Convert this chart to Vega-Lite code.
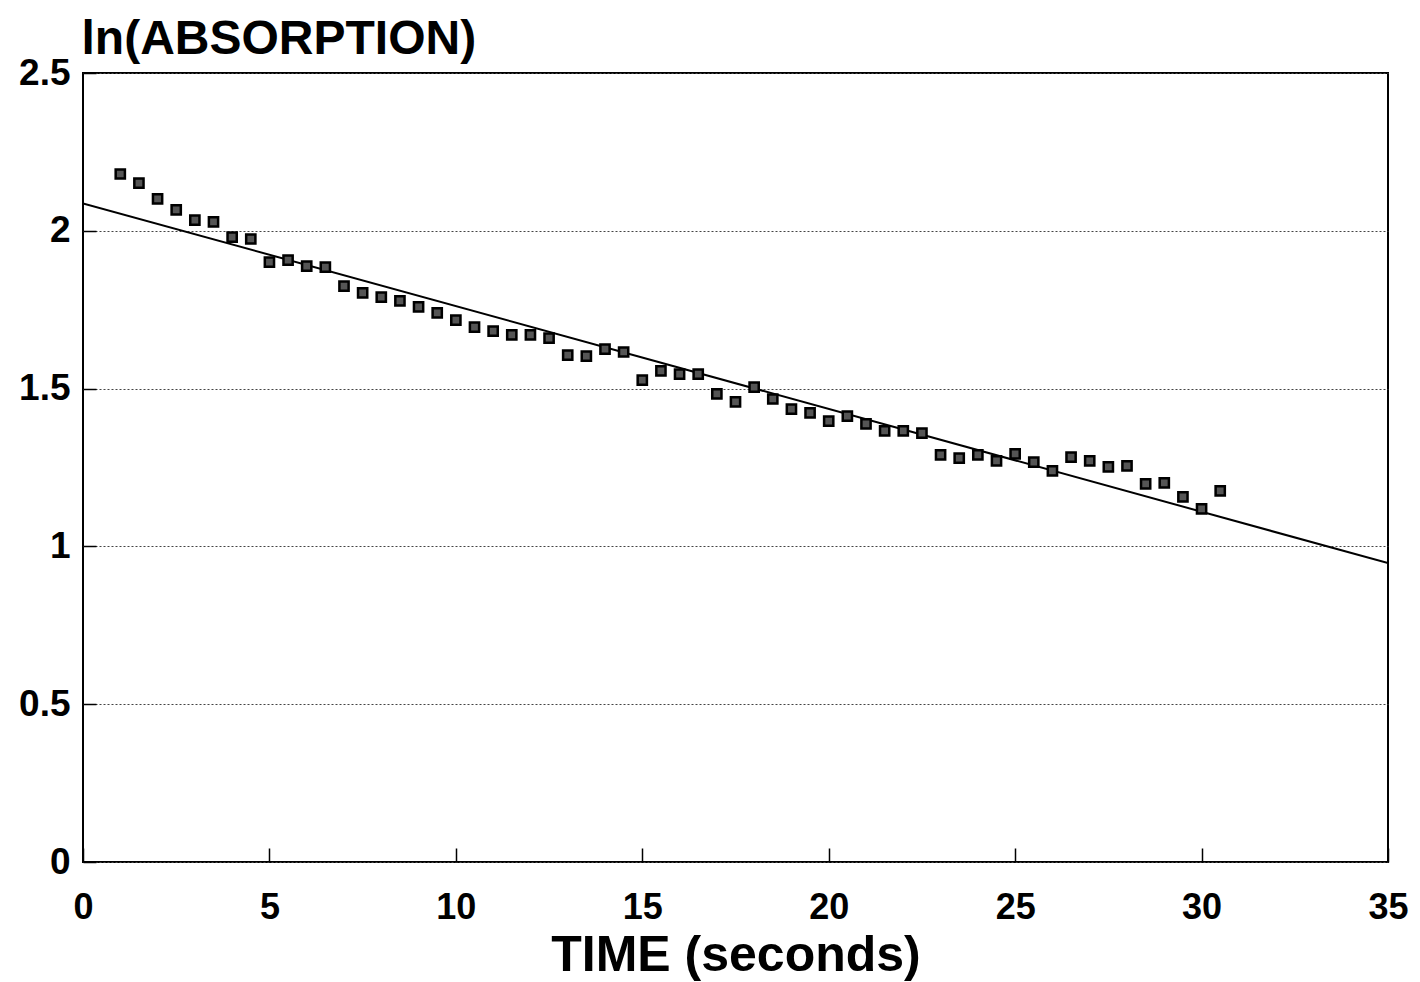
{
  "$schema": "https://vega.github.io/schema/vega-lite/v6.json",
  "width": 1305,
  "height": 789,
  "autosize": {"type": "none"},
  "padding": {"left": 83, "top": 73, "right": 32, "bottom": 120},
  "background": "white",
  "config": {
    "view": {"stroke": "black", "strokeWidth": 2},
    "font": "Liberation Sans"
  },
  "datasets": {
    "points": [
      {"t": 1, "v": 2.180}, {"t": 1.5, "v": 2.151}, {"t": 2, "v": 2.101}, {"t": 2.5, "v": 2.066},
      {"t": 3, "v": 2.034}, {"t": 3.5, "v": 2.028}, {"t": 4, "v": 1.980}, {"t": 4.5, "v": 1.974},
      {"t": 5, "v": 1.901}, {"t": 5.5, "v": 1.907}, {"t": 6, "v": 1.888}, {"t": 6.5, "v": 1.885},
      {"t": 7, "v": 1.825}, {"t": 7.5, "v": 1.803}, {"t": 8, "v": 1.790}, {"t": 8.5, "v": 1.778},
      {"t": 9, "v": 1.759}, {"t": 9.5, "v": 1.740}, {"t": 10, "v": 1.717}, {"t": 10.5, "v": 1.695},
      {"t": 11, "v": 1.682}, {"t": 11.5, "v": 1.670}, {"t": 12, "v": 1.670}, {"t": 12.5, "v": 1.660},
      {"t": 13, "v": 1.606}, {"t": 13.5, "v": 1.603}, {"t": 14, "v": 1.625}, {"t": 14.5, "v": 1.616},
      {"t": 15, "v": 1.527}, {"t": 15.5, "v": 1.556}, {"t": 16, "v": 1.546}, {"t": 16.5, "v": 1.546},
      {"t": 17, "v": 1.483}, {"t": 17.5, "v": 1.458}, {"t": 18, "v": 1.505}, {"t": 18.5, "v": 1.467},
      {"t": 19, "v": 1.435}, {"t": 19.5, "v": 1.423}, {"t": 20, "v": 1.397}, {"t": 20.5, "v": 1.413},
      {"t": 21, "v": 1.388}, {"t": 21.5, "v": 1.366}, {"t": 22, "v": 1.366}, {"t": 22.5, "v": 1.359},
      {"t": 23, "v": 1.290}, {"t": 23.5, "v": 1.280}, {"t": 24, "v": 1.290}, {"t": 24.5, "v": 1.271},
      {"t": 25, "v": 1.293}, {"t": 25.5, "v": 1.267}, {"t": 26, "v": 1.239}, {"t": 26.5, "v": 1.283},
      {"t": 27, "v": 1.271}, {"t": 27.5, "v": 1.252}, {"t": 28, "v": 1.255}, {"t": 28.5, "v": 1.198},
      {"t": 29, "v": 1.201}, {"t": 29.5, "v": 1.157}, {"t": 30, "v": 1.119}, {"t": 30.5, "v": 1.176}
    ],
    "fit": [
      {"t": 0, "v": 2.087},
      {"t": 35, "v": 0.947}
    ]
  },
  "layer": [
    {
      "data": {"name": "fit"},
      "mark": {"type": "line", "color": "black", "strokeWidth": 2, "clip": true},
      "encoding": {
        "x": {
          "field": "t", "type": "quantitative",
          "scale": {"domain": [0, 35], "nice": false},
          "axis": {
            "values": [0, 5, 10, 15, 20, 25, 30, 35],
            "title": "TIME (seconds)",
            "titleFont": "Liberation Sans",
            "titleFontSize": 50,
            "titleFontWeight": "bold",
            "titleColor": "black",
            "titlePadding": 5,
            "labelFontSize": 36,
            "labelFontWeight": "bold",
            "labelColor": "black",
            "labelPadding": 42,
            "tickSize": -14,
            "tickColor": "black",
            "tickWidth": 1.5,
            "domain": false,
            "grid": false,
            "labelFlush": false
          }
        },
        "y": {
          "field": "v", "type": "quantitative",
          "scale": {"domain": [0, 2.5], "nice": false},
          "axis": {
            "values": [0, 0.5, 1, 1.5, 2, 2.5],
            "labelExpr": "'' + datum.value",
            "title": "ln(ABSORPTION)",
            "titleAngle": 0,
            "titleAlign": "left",
            "titleBaseline": "alphabetic",
            "titleX": -2,
            "titleY": -20,
            "titleFontSize": 48,
            "titleFontWeight": "bold",
            "titleColor": "black",
            "labelFontSize": 37,
            "labelFontWeight": "bold",
            "labelColor": "black",
            "labelPadding": 26,
            "tickSize": -13,
            "tickColor": "black",
            "tickWidth": 1.5,
            "domain": false,
            "grid": true,
            "gridColor": "#444",
            "gridDash": [2, 2],
            "gridWidth": 1,
            "labelFlush": false
          }
        }
      }
    },
    {
      "data": {"name": "points"},
      "mark": {"type": "point", "shape": "square", "filled": true, "fill": "#555", "stroke": "black", "strokeWidth": 2.5, "size": 85, "opacity": 1},
      "encoding": {
        "x": {"field": "t", "type": "quantitative"},
        "y": {"field": "v", "type": "quantitative"}
      }
    }
  ]
}
